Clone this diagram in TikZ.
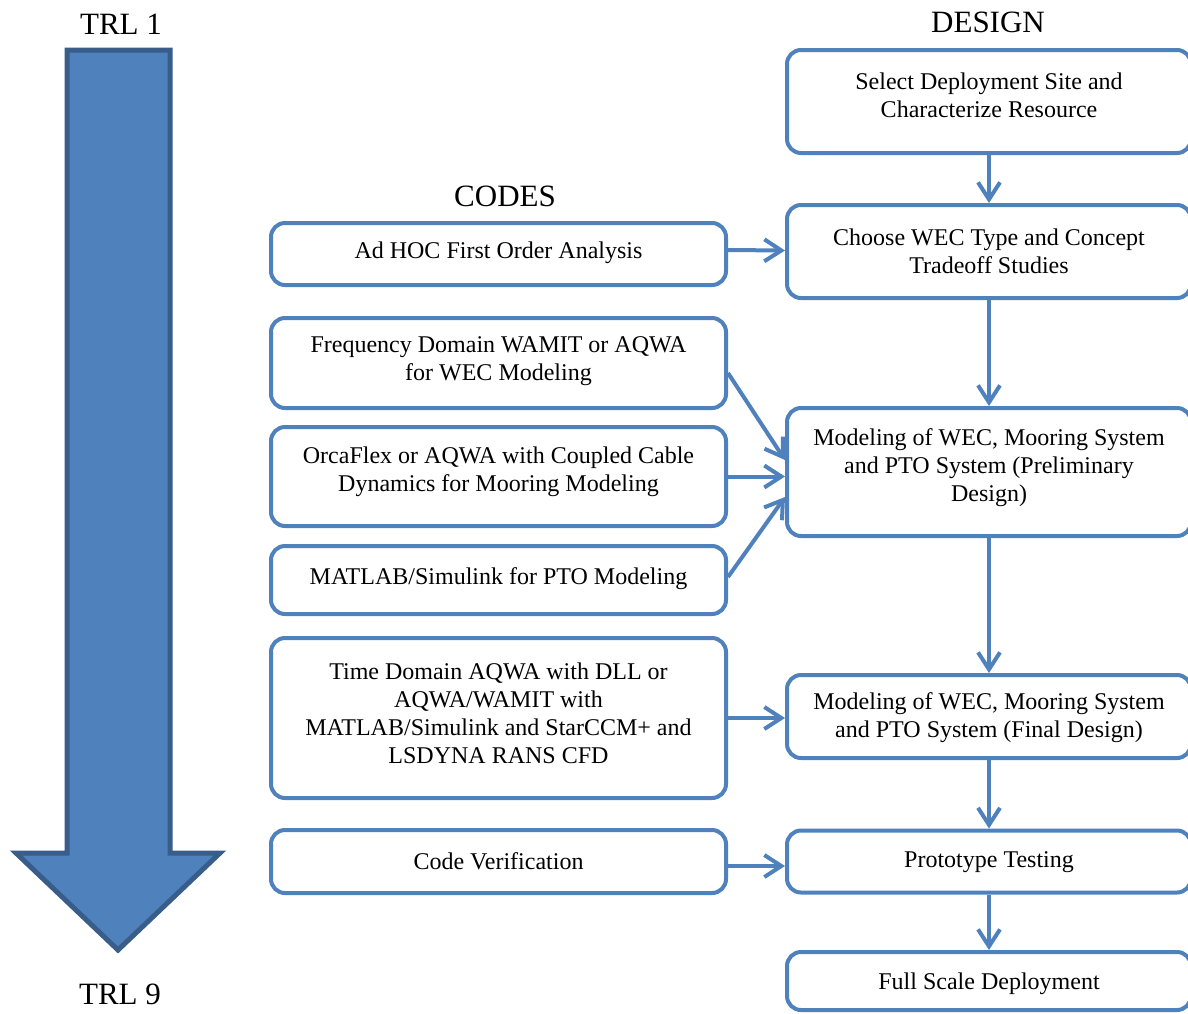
\documentclass[tikz,border=0pt]{standalone}
\usepackage{fontspec}
\setmainfont{Liberation Serif}
\usetikzlibrary{arrows.meta}
\definecolor{boxblue}{HTML}{4F81BD}
\definecolor{darkblue}{HTML}{385D8A}
\tikzset{
  box/.style={draw=boxblue, line width=4pt, rounded corners=14pt, rectangle, inner sep=0pt},
  txt/.style={align=center, font=\fontsize{24}{28}\selectfont, inner sep=0pt},
  head/.style={font=\fontsize{31}{36}\selectfont, inner sep=0pt},
  conn/.style={draw=boxblue, line width=4pt, -{Straight Barb[length=17pt,width=22pt,line width=4pt]}},
}
\begin{document}
\begin{tikzpicture}[x=1pt,y=-1pt]
\useasboundingbox (0,0) rectangle (1188,1013);
\clip (0,0) rectangle (1188,1013);
% big arrow
\draw[fill=boxblue, draw=darkblue, line width=5pt, line join=miter]
  (67,50) -- (170,50) -- (170,853) -- (220,853) -- (118,950) -- (16,853) -- (67,853) -- cycle;
\node[head] (trl1) at (121,24) {TRL 1};
\node[head] (trl9) at (120,994) {TRL 9};
\node[head] (design) at (988,22) {DESIGN};
\node[head] (codes) at (505,196) {CODES};
% design boxes
\node[box, minimum width=404pt, minimum height=103pt] (d1) at (989,101.5) {};
\node[txt] at (989,95) {Select Deployment Site and\\Characterize Resource};
\node[box, minimum width=404pt, minimum height=93pt] (d2) at (989,251.5) {};
\node[txt] at (989,251.5) {Choose WEC Type and Concept\\Tradeoff Studies};
\node[box, minimum width=404pt, minimum height=128pt] (d3) at (989,472) {};
\node[txt] at (989,468) {Modeling of WEC, Mooring System\\and PTO System (Preliminary\\Design)};
\node[box, minimum width=404pt, minimum height=83pt] (d4) at (989,716.5) {};
\node[txt] at (989,718) {Modeling of WEC, Mooring System\\and PTO System (Final Design)};
\node[box, minimum width=404pt, minimum height=62pt] (d5) at (989,861.5) {};
\node[txt] at (989,862) {Prototype Testing};
\node[box, minimum width=404pt, minimum height=58pt] (d6) at (989,981) {};
\node[txt] at (989,984) {Full Scale Deployment};
% code boxes
\node[box, minimum width=455pt, minimum height=62pt] (c1) at (498.5,254) {};
\node[txt] at (498.5,253) {Ad HOC First Order Analysis};
\node[box, minimum width=455pt, minimum height=90pt] (c2) at (498.5,363) {};
\node[txt] at (498.5,361) {Frequency Domain WAMIT or AQWA\\for WEC Modeling};
\node[box, minimum width=455pt, minimum height=99pt] (c3) at (498.5,476.5) {};
\node[txt] at (498.5,472) {OrcaFlex or AQWA with Coupled Cable\\Dynamics for Mooring Modeling};
\node[box, minimum width=455pt, minimum height=68pt] (c4) at (498.5,580) {};
\node[txt] at (498.5,579) {MATLAB/Simulink for PTO Modeling};
\node[box, minimum width=455pt, minimum height=160pt] (c5) at (498.5,718) {};
\node[txt] at (498.5,713) {Time Domain AQWA with DLL or\\AQWA/WAMIT with\\MATLAB/Simulink and StarCCM+ and\\LSDYNA RANS CFD};
\node[box, minimum width=455pt, minimum height=63pt] (c6) at (498.5,861.5) {};
\node[txt] at (498.5,861) {Code Verification};
% vertical connectors
\draw[conn] (d1.south) -- (d2.north);
\draw[conn] (d2.south) -- (d3.north);
\draw[conn] (d3.south) -- (d4.north);
\draw[conn] (d4.south) -- (d5.north);
\draw[conn] (d5.south) -- (d6.north);
% horizontal connectors
\draw[conn] ([yshift=4pt]c1.east) -- ([yshift=1pt]d2.west);
\draw[conn] ([yshift=-10pt]c2.east) -- ([yshift=12pt]d3.west);
\draw[conn] (c3.east) -- ([yshift=-4.5pt]d3.west);
\draw[conn] ([yshift=3pt]c4.east) -- ([yshift=-25pt]d3.west);
\draw[conn] (c5.east) -- (c5.east -| d4.west);
\draw[conn] ([yshift=-4.5pt]c6.east) -- ([yshift=-4.5pt]d5.west);
\end{tikzpicture}
\end{document}
